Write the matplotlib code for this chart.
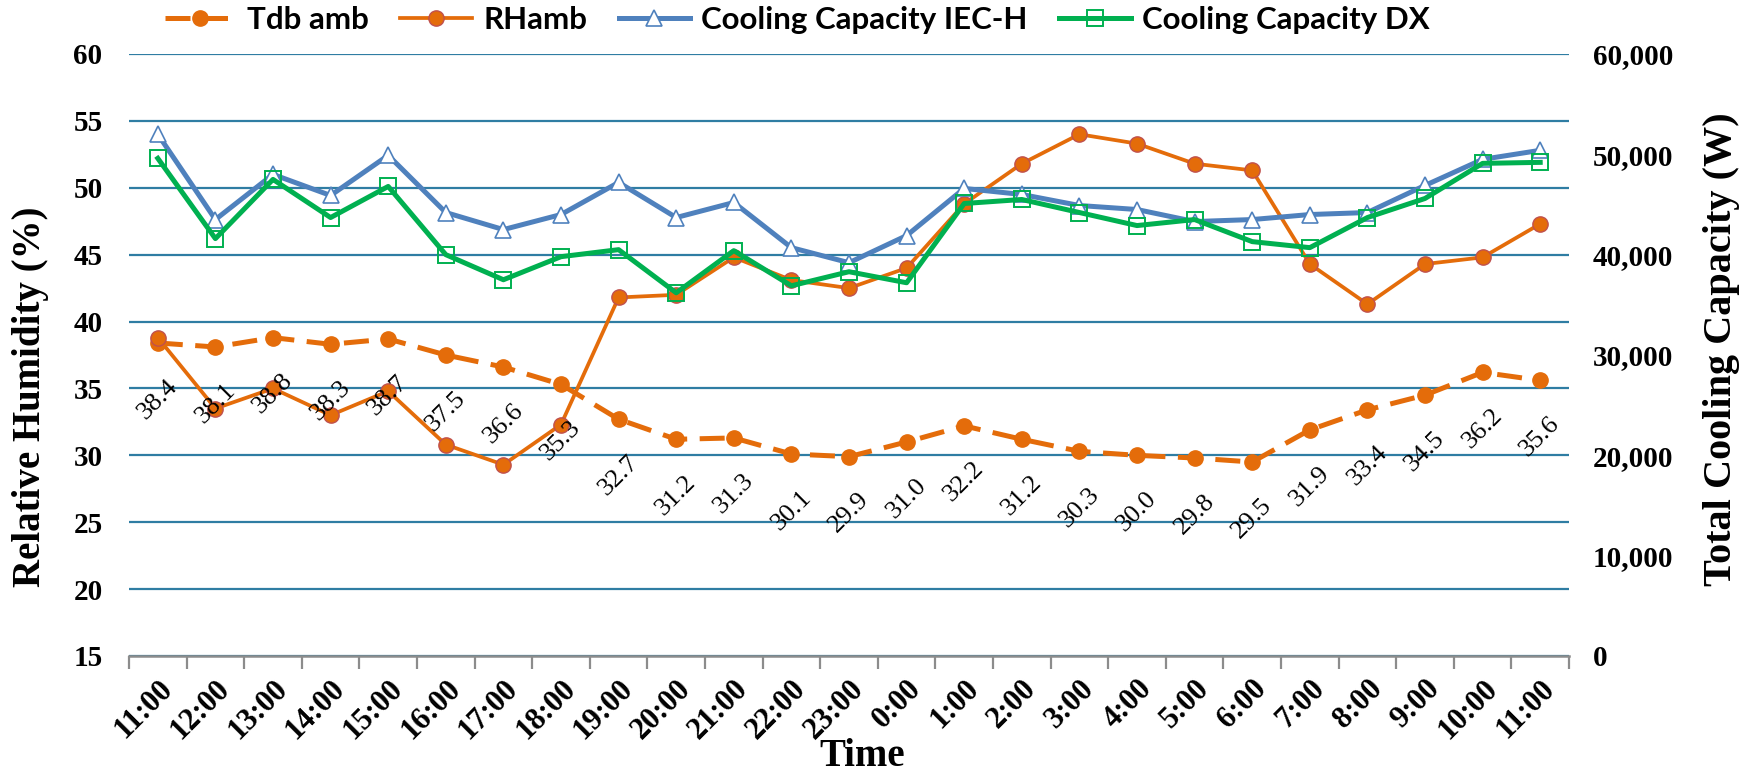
import numpy as np
import matplotlib
matplotlib.use("Agg")
import matplotlib.pyplot as plt
from matplotlib.ticker import FuncFormatter

plt.rcParams.update({
    "font.family": "serif",
    "font.serif": ["Liberation Serif", "DejaVu Serif"],
    "font.weight": "bold",
    "axes.unicode_minus": False,
})

hours = ["11:00", "12:00", "13:00", "14:00", "15:00", "16:00", "17:00",
         "18:00", "19:00", "20:00", "21:00", "22:00", "23:00", "0:00",
         "1:00", "2:00", "3:00", "4:00", "5:00", "6:00", "7:00", "8:00",
         "9:00", "10:00", "11:00"]
tdb_amb = [38.4, 38.1, 38.8, 38.3, 38.7, 37.5, 36.6, 35.3, 32.7, 31.2, 31.3,
           30.1, 29.9, 31.0, 32.2, 31.2, 30.3, 30.0, 29.8, 29.5, 31.9, 33.4,
           34.5, 36.2, 35.6]
rh_amb = [38.8, 33.5, 35.0, 33.0, 34.8, 30.8, 29.3, 32.3, 41.8, 42.0, 44.8,
          43.1, 42.5, 44.0, 48.8, 51.8, 54.0, 53.3, 51.8, 51.3, 44.3, 41.3,
          44.3, 44.8, 47.3]
cap_iec_h = [52000, 43500, 48000, 45900, 49900, 44200, 42500, 44000, 47200,
             43700, 45200, 40700, 39200, 41900, 46600, 46000, 44900, 44500,
             43300, 43500, 44000, 44200, 46900, 49500, 50400]
cap_dx = [49600, 41600, 47500, 43700, 46800, 40000, 37500, 39800, 40500,
          36200, 40400, 36900, 38300, 37200, 45100, 45500, 44200, 42900,
          43500, 41300, 40700, 43700, 45600, 49100, 49200]

ORANGE = "#E46C0A"
RED_EDGE = "#C0504D"
BLUE = "#4F81BD"
GREEN = "#00B050"
GRID = "#2F7DA3"
AXIS_GREY = "#8C8C8C"

W, H = 1759, 776
fig = plt.figure(figsize=(W / 100, H / 100), dpi=100)
ax = fig.add_axes([129 / W, 120 / H, 1440 / W, 602 / H])
ax2 = ax.twinx()
x = np.arange(len(hours))

# left axis: temperature and humidity
l_tdb, = ax.plot(x, tdb_amb, color=ORANGE, lw=3.6, dashes=(5, 2.5),
                 marker="o", ms=11, mfc=ORANGE, mec=ORANGE,
                 label="Tdb amb", zorder=3)
l_rh, = ax.plot(x, rh_amb, color=ORANGE, lw=2.7, marker="o", ms=11,
                mfc=ORANGE, mec=RED_EDGE, mew=1.0, label="RHamb", zorder=4)
for i, v in enumerate(tdb_amb):
    ax.annotate(f"{v:.1f}", (i, v), xytext=(0, -56),
                textcoords="offset pixels", rotation=45, ha="center",
                va="center", fontsize=19, fontweight="normal", zorder=5)

# right axis: cooling capacities
l_iec, = ax2.plot(x, cap_iec_h, color=BLUE, lw=3.6, marker="^", ms=12,
                  mfc="white", mec=BLUE, mew=1.2,
                  label="Cooling Capacity IEC-H")
l_dx, = ax2.plot(x, cap_dx, color=GREEN, lw=3.6, marker="s", ms=12,
                 mfc="none", mec=GREEN, mew=1.4,
                 label="Cooling Capacity DX")

ax.set_xlim(-0.5, len(hours) - 0.5)
ax.set_ylim(15, 60)
ax.set_yticks(range(15, 61, 5))
ax2.set_ylim(0, 60000)
ax2.set_yticks(range(0, 60001, 10000))
ax2.yaxis.set_major_formatter(FuncFormatter(lambda v, p: f"{v:,.0f}"))

ax.grid(axis="y", color=GRID, lw=1.6)
ax.set_axisbelow(True)
for a in (ax, ax2):
    for s in ("left", "right", "top"):
        a.spines[s].set_visible(False)
ax2.spines["bottom"].set_visible(False)
ax.spines["bottom"].set_color(AXIS_GREY)
ax.spines["bottom"].set_linewidth(1.8)

ax.set_xticks(x)
ax.set_xticklabels(hours, rotation=45, ha="right", rotation_mode="anchor",
                   fontsize=22)
ax.set_xticks(np.arange(-0.5, len(hours)), minor=True)
ax.tick_params(axis="x", which="major", length=0, pad=13)
ax.tick_params(axis="x", which="minor", length=9, width=1.6,
               color=AXIS_GREY)
ax.tick_params(axis="y", length=0, labelsize=21, pad=19)
ax2.tick_params(axis="y", length=0, labelsize=21, pad=17)

fig.text(31 / W, 1 - 397 / H, "Relative Humidity (%)", rotation=90,
         ha="center", va="center", fontsize=28)
fig.text(1722 / W, 1 - 349 / H, "Total Cooling Capacity (W)", rotation=90,
         ha="center", va="center", fontsize=29)
fig.text(862 / W, 0.5 / H, "Time", ha="center", va="bottom", fontsize=28)

fig.legend(handles=[l_tdb, l_rh, l_iec, l_dx], loc="center left",
           bbox_to_anchor=(152 / W, 1 - 20 / H), ncol=4, frameon=False,
           prop={"family": ["Lato", "DejaVu Sans"],
                 "weight": "bold", "size": 22.5},
           handlelength=2.3, handletextpad=0.35, columnspacing=1.0,
           borderaxespad=0)

fig.savefig("out.png", dpi=100)
